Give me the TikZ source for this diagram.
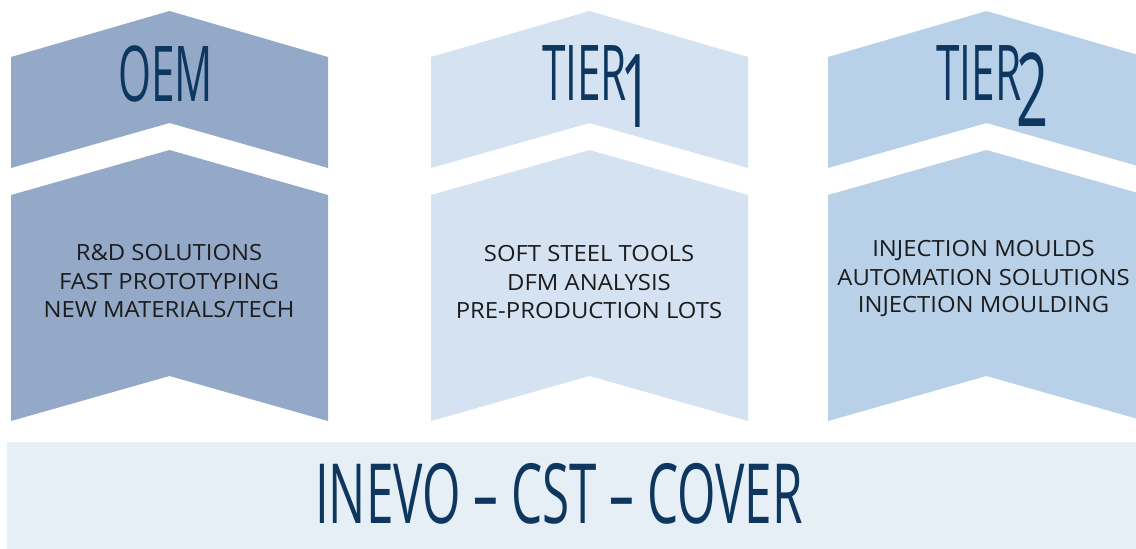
\documentclass[tikz,border=0pt]{standalone}
\usepackage{fontspec}
\setmainfont{Open Sans}
\newfontfamily\bodyfont[FakeStretch=1.07]{Open Sans}
\newfontfamily\condfont[FakeStretch=0.55]{Open Sans}
\newfontfamily\barfont[FakeStretch=0.595]{Open Sans}
\definecolor{oemc}{HTML}{93A9C7}
\definecolor{tieronec}{HTML}{D4E2F2}
\definecolor{tiertwoc}{HTML}{B8D0E8}
\definecolor{barc}{HTML}{E6EEF6}
\definecolor{navy}{HTML}{0E3760}
\definecolor{bodytxt}{HTML}{1C1C1C}
\tikzset{
  titletxt/.style={text=navy, anchor=base, inner sep=0pt, font=\condfont\fontsize{77}{77}\selectfont},
  digittxt/.style={text=navy, anchor=base, inner sep=0pt, font=\condfont\fontsize{102}{102}\selectfont},
  bodyline/.style={text=bodytxt, anchor=base, inner sep=0pt, font=\bodyfont\fontsize{22.3}{22.3}\selectfont},
  bartxt/.style={text=navy, anchor=base, inner sep=0pt, font=\barfont\fontsize{83}{83}\selectfont},
}
\begin{document}
\begin{tikzpicture}[x=1pt,y=-1pt]
\useasboundingbox (0,0) rectangle (1136,549);
\begin{scope}
\clip (0,0) rectangle (1136,549);
% chevrons
\foreach \xl/\col in {11/oemc, 431/tieronec, 828/tiertwoc}{
  \pgfmathsetmacro{\xm}{\xl+158.5}
  \pgfmathsetmacro{\xr}{\xl+317}
  \fill[\col] (\xl,57) -- (\xm,11) -- (\xr,57) -- (\xr,168) -- (\xm,123) -- (\xl,168) -- cycle;
  \fill[\col] (\xl,195) -- (\xm,150) -- (\xr,195) -- (\xr,421) -- (\xm,376) -- (\xl,421) -- cycle;
}
\fill[barc] (7,442) rectangle (1136,549);
\end{scope}
% titles
\node[titletxt] (oem) at (165.5,101.7) {OEM};
\node[titletxt] (tierone) at (584.5,100) {TIER};
\node[digittxt] (one) at (637,127) {1};
\node[titletxt] (tiertwo) at (979,100) {TIER};
\node[digittxt] (two) at (1033,126) {2};
% bodies
\node[bodyline] (o1) at (169,260.7) {R\&D SOLUTIONS};
\node[bodyline] (o2) at (169,289.3) {FAST PROTOTYPING};
\node[bodyline] (o3) at (169,317.3) {NEW MATERIALS/TECH};
\node[bodyline] (a1) at (589,261.7) {SOFT STEEL TOOLS};
\node[bodyline] (a2) at (589,290) {DFM ANALYSIS};
\node[bodyline] (a3) at (589,318.3) {PRE-PRODUCTION LOTS};
\node[bodyline] (b1) at (983.5,256.7) {INJECTION MOULDS};
\node[bodyline] (b2) at (983.5,285) {AUTOMATION SOLUTIONS};
\node[bodyline] (b3) at (983.5,312.7) {INJECTION MOULDING};
% bar text
\node[bartxt] (bar) at (559,523.3) {INEVO – CST – COVER};
\end{tikzpicture}
\end{document}
